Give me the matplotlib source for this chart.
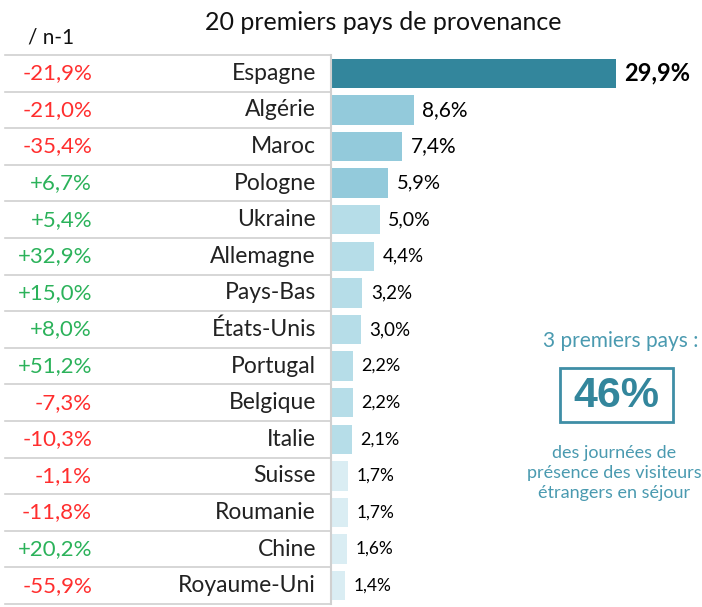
import matplotlib.pyplot as plt
from matplotlib.transforms import blended_transform_factory
from matplotlib.patches import Rectangle

plt.rcParams['font.family'] = ['Lato', 'DejaVu Sans']

# données : part des journées de présence et évolution / n-1
pays = ["Espagne", "Algérie", "Maroc", "Pologne", "Ukraine", "Allemagne",
        "Pays-Bas", "États-Unis", "Portugal", "Belgique", "Italie", "Suisse",
        "Roumanie", "Chine", "Royaume-Uni"]
parts = [29.9, 8.6, 7.4, 5.9, 5.0, 4.4, 3.2, 3.0, 2.2, 2.2, 2.1, 1.7, 1.7, 1.6, 1.4]
evol = [-21.9, -21.0, -35.4, 6.7, 5.4, 32.9, 15.0, 8.0, 51.2, -7.3, -10.3,
        -1.1, -11.8, 20.2, -55.9]
part_top3 = 46

couleurs = (["#33869c"] + ["#93cadb"] * 3 + ["#b6dde8"] * 7 + ["#daedf3"] * 4)
tailles = [17, 15, 15, 14.5, 14, 13.5, 13.5, 13.5, 13, 13, 13, 12.5, 12.5, 12.5, 12.5]

W, H = 702, 607
fig = plt.figure(figsize=(W / 100, H / 100), dpi=100)

# axe des barres
x0, x1 = 332, 702
y_top, y_bot = 55, 604
ax = fig.add_axes([x0 / W, 1 - y_bot / H, (x1 - x0) / W, (y_bot - y_top) / H])
n = len(pays)
ax.set_ylim(n - 0.5, -0.5)
ax.set_xlim(0, (x1 - x0) / 9.5)
ax.axis('off')

ypos = list(range(n))
ax.barh(ypos, parts, height=0.8, color=couleurs, edgecolor='none')

for i, v in enumerate(parts):
    txt = f"{v:.1f}%".replace('.', ',')
    ax.text(v + 0.9, i, txt, va='center', ha='left', fontsize=tailles[i],
            fontweight='bold' if i == 0 else 'normal', color='black')

# colonnes de gauche (évolution et pays)
tr = blended_transform_factory(fig.transFigure, ax.transData)
for i in range(n):
    e = evol[i]
    lab = (f"+{e:.1f}%" if e > 0 else f"{e:.1f}%").replace('.', ',')
    ax.text(92 / W, i, lab, transform=tr, ha='right', va='center', fontsize=16,
            color='#2bb25a' if e > 0 else '#ff2e2e')
    ax.text(316 / W, i, pays[i], transform=tr, ha='right', va='center',
            fontsize=16.5, color='#222222')

# lignes de séparation
for k in range(n + 1):
    ax.plot([5 / W, 331 / W], [k - 0.5, k - 0.5], transform=tr, color='#d0d0d0',
            lw=1.2, clip_on=False)
ax.plot([331 / W, 331 / W], [-0.5, n - 0.5], transform=tr, color='#d0d0d0',
        lw=1.5, clip_on=False)

# titres
fig.text(383 / W, 1 - 22 / H, "20 premiers pays de provenance", ha='center',
         va='center', fontsize=18, color='#111111')
fig.text(28 / W, 1 - 37 / H, "/ n-1", ha='left', va='center', fontsize=15,
         color='#111111')

# encadré des 3 premiers pays
bleu = "#3f8ea6"
fig.text(621 / W, 1 - 341 / H, "3 premiers pays :", ha='center', va='center',
         fontsize=15, color='#4a9ab0')
fig.patches.append(Rectangle((560 / W, 1 - 422 / H), 113 / W, 54 / H,
                             transform=fig.transFigure, fill=False,
                             edgecolor=bleu, lw=2))
fig.text(616 / W, 1 - 396 / H, f"{part_top3}%", ha='center', va='center',
         fontsize=31, fontweight='bold', color='#33869c',
         family='Liberation Sans')
fig.text(614 / W, 1 - 473 / H,
         "des journées de\nprésence des visiteurs\nétrangers en séjour",
         ha='center', va='center', fontsize=13, color='#4a9ab0',
         linespacing=1.3)

fig.savefig('out.png', dpi=100)
